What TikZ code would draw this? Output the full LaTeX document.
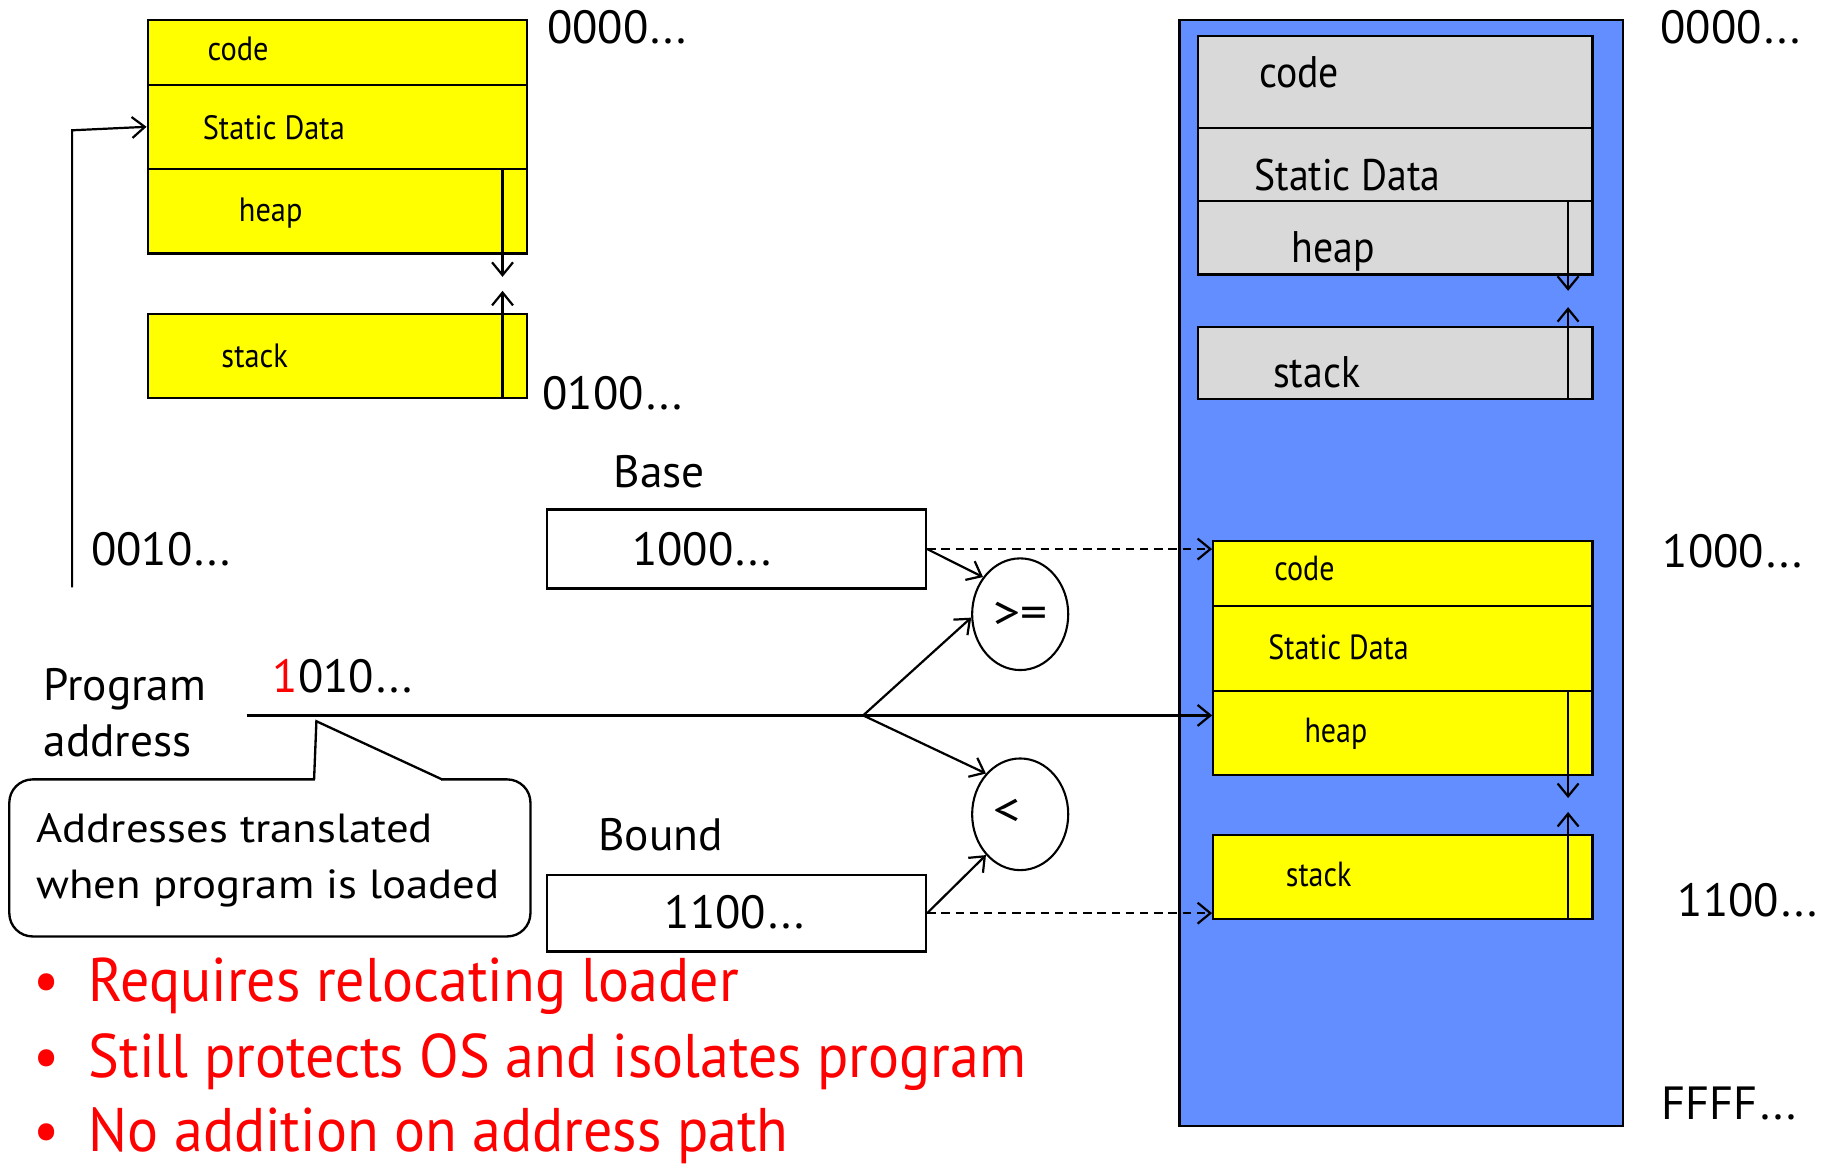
\documentclass[tikz,border=0pt]{standalone}
\usepackage{fontspec}
\setmainfont{PT Sans}
\newfontfamily\fseg{PT Sans}[FakeStretch=0.9]
\newfontfamily\frseg{PT Sans}[FakeStretch=0.86]
\newfontfamily\fcall{PT Sans}[FakeStretch=1.1]
\newfontfamily\fbul{PT Sans}[FakeStretch=0.94]
\newfontfamily\fcmp{PT Sans}[FakeStretch=1.15]
\usetikzlibrary{arrows.meta,shapes.geometric,fit,calc}

\definecolor{memblue}{RGB}{98,142,255}
\definecolor{memgray}{RGB}{217,217,217}
\definecolor{segyellow}{RGB}{255,255,0}
\definecolor{hotred}{RGB}{255,0,0}

\newcommand{\fsz}[1]{\fontsize{#1}{1.2\dimexpr#1\relax}\selectfont}
% spaced trailing dots of the address labels
\newcommand{\ldts}{\kern1pt.\kern1.3pt.\kern1.3pt.}

\begin{document}
\begin{tikzpicture}[x=0.5pt,y=-0.5pt,
  box/.style={draw=black, line width=1pt, inner sep=0pt},
  yseg/.style={box, fill=segyellow},
  gseg/.style={box, fill=memgray},
  txt/.style={inner sep=0pt, anchor=base west},
  segtxt/.style={txt, font=\fseg\fsz{14.5pt}},
  rsegtxt/.style={txt, font=\frseg\fsz{15pt}},
  graytxt/.style={txt, font=\fseg\fsz{19pt}},
  numtxt/.style={txt, font=\fsz{20pt}},
  lbltxt/.style={txt, font=\fsz{19.5pt}},
  calltxt/.style={txt, font=\fcall\fsz{17.5pt}},
  bullettxt/.style={txt, font=\fbul\fsz{26.5pt}, text=hotred},
  cmp/.style={draw=black, ellipse, line width=0.9pt, fill=white,
              minimum width=41.3pt, minimum height=48pt, inner sep=0pt},
  cmptxt/.style={font=\fcmp\fsz{20pt}, inner sep=0pt},
  arr/.style={-{Straight Barb[length=5.5pt,width=9pt]}, line width=0.95pt},
  darr/.style={arr, dash pattern=on 3.6pt off 2.5pt},
]
\useasboundingbox (0,0) rectangle (1568,1002);

% ---------- program image (top left) ----------
\node[yseg, fit={(127,17) (453,73)}]   (tcode)  {};
\node[yseg, fit={(127,73) (453,145)}]  (tsdata) {};
\node[yseg, fit={(127,145) (453,218)}] (theap)  {};
\node[yseg, fit={(127,270) (453,342)}] (tstack) {};
\node[segtxt] at (178,52)  {code};
\node[segtxt] at (174,120) {Static Data};
\node[segtxt] at (205,190) {heap};
\node[segtxt] at (190,316) {stack};
\coordinate (thA) at (432,145);
\coordinate (thB) at (432,238);
\coordinate (tsA) at (432,342);
\coordinate (tsB) at (432,250);
\draw[arr] (thA) -- (thB);
\draw[arr] (tsA) -- (tsB);
\node[numtxt] at (470,37)  {0000\ldts};
\node[numtxt] at (466,352) {0100\ldts};

% pointer into static data
\coordinate (ptrA) at (62,505);
\coordinate (ptrB) at (62,112);
\draw[arr] (ptrA) -- (ptrB) -- (tsdata.west);
\node[numtxt] at (78,486) {0010\ldts};

% ---------- base and bound registers ----------
\node[lbltxt] at (527,419) {Base};
\node[box, fit={(470,438) (796,506)}] (base) {};
\node[numtxt] at (543,486) {1000\ldts};
\node[lbltxt] at (514,731) {Bound};
\node[box, fit={(470,752) (796,818)}] (bound) {};
\node[numtxt] at (571,798) {1100\ldts};

% comparators
\node[cmp] (ge) at (877,528) {};
\node[cmptxt] at (877,529) {>=};
\node[cmp] (lt) at (877,700) {};
\node[cmptxt] at (866,698) {<};

% ---------- program address ----------
\node[lbltxt] at (37,602) {Program};
\node[lbltxt] at (37,650) {address};
\node[numtxt] at (234,595) {{\color{hotred}1}010\ldts};

% ---------- physical memory (right) ----------
\node[box, fill=memblue, fit={(1014,17) (1395,968)}] (mem) {};
\node[gseg, fit={(1030,31) (1369,110)}]  (gcode)  {};
\node[gseg, fit={(1030,110) (1369,173)}] (gsdata) {};
\node[gseg, fit={(1030,173) (1369,236)}] (gheap)  {};
\node[gseg, fit={(1030,281) (1369,343)}] (gstack) {};
\node[graytxt] at (1082,75)  {code};
\node[graytxt] at (1078,164) {Static Data};
\node[graytxt] at (1110,226) {heap};
\node[graytxt] at (1094,333) {stack};
\coordinate (ghA) at (1348,173);
\coordinate (ghB) at (1348,250);
\coordinate (gsA) at (1348,343);
\coordinate (gsB) at (1348,264);
\draw[arr] (ghA) -- (ghB);
\draw[arr] (gsA) -- (gsB);

\node[yseg, fit={(1043,465) (1369,521)}] (rcode)  {};
\node[yseg, fit={(1043,521) (1369,594)}] (rsdata) {};
\node[yseg, fit={(1043,594) (1369,666)}] (rheap)  {};
\node[yseg, fit={(1043,718) (1369,790)}] (rstack) {};
\node[rsegtxt] at (1095,499) {code};
\node[rsegtxt] at (1090,567) {Static Data};
\node[rsegtxt] at (1121,638) {heap};
\node[rsegtxt] at (1105,762) {stack};
\coordinate (rhA) at (1348,594);
\coordinate (rhB) at (1348,686);
\coordinate (rsA) at (1348,790);
\coordinate (rsB) at (1348,698);
\draw[arr] (rhA) -- (rhB);
\draw[arr] (rsA) -- (rsB);

\node[numtxt] at (1427,37)  {0000\ldts};
\node[numtxt] at (1429,488) {1000\ldts};
\node[numtxt] at (1442,788) {1100\ldts};
\node[numtxt] at (1428,962) {FFFF\ldts};

% ---------- connections ----------
\draw[darr] (base.east) -- (base.east -| rcode.west);
\draw[darr] (bound.east) -- (bound.east -| rstack.west);
\draw[arr] (base.east) -- (ge.135);
\draw[arr] (bound.east) -- (lt.230);

\coordinate (pa) at (212,615);
\coordinate (split) at (742,615);
\draw[arr] (pa) -- (pa -| rheap.west);
\draw[arr] (split) -- (ge.184);
\draw[arr] (split) -- (lt.130);

% ---------- callout ----------
\node[box, rounded corners=10pt, fill=white, fit={(8,670) (456,805)}] (note) {};
\fill[white] (271,666) rectangle (379,674);
\coordinate (tipL) at (270,670);
\coordinate (tip) at (272,620);
\coordinate (tipR) at (380,670);
\draw[line width=1pt] (tipL) -- (tip) -- (tipR);
\node[calltxt] at (31,724) {Addresses translated};
\node[calltxt] at (31,772) {when program is loaded};

% ---------- remarks ----------
\node[bullettxt] at (28,861) {•};
\node[bullettxt] at (76,861) {Requires relocating loader};
\node[bullettxt] at (28,926) {•};
\node[bullettxt] at (76,926) {Still protects OS and isolates program};
\node[bullettxt] at (28,990) {•};
\node[bullettxt] at (76,990) {No addition on address path};
\end{tikzpicture}
\end{document}
